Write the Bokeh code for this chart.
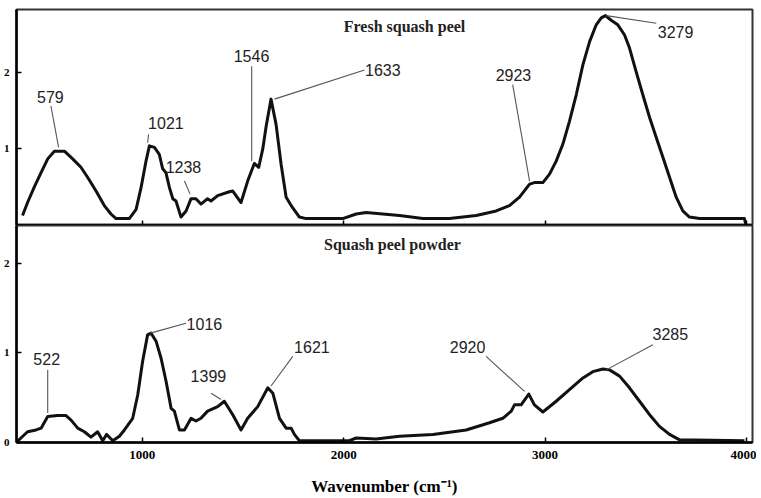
from bokeh.plotting import figure
from bokeh.models import Range1d, FixedTicker, CustomLabelingPolicy
from bokeh.layouts import column
from bokeh.core.properties import value
from bokeh.embed import file_html
from bokeh.resources import INLINE

# ---------------- data ----------------
fresh_wn = [405, 430, 463, 497, 530, 563, 613, 654, 695, 728, 770, 811, 844, 869, 935, 969, 994,
            1018, 1035, 1060, 1084, 1101, 1117, 1134, 1151, 1167, 1192, 1217, 1242, 1266, 1291,
            1324, 1341, 1374, 1432, 1449, 1490, 1523, 1556, 1578, 1598, 1615, 1639, 1664, 1689,
            1714, 1739, 1780, 1813, 1995, 2062, 2111, 2194, 2277, 2393, 2525, 2658, 2757, 2823,
            2873, 2923, 2947, 2989, 3022, 3055, 3088, 3121, 3155, 3188, 3221, 3254, 3279, 3300,
            3328, 3361, 3394, 3419, 3452, 3485, 3519, 3552, 3585, 3618, 3651, 3684, 3717, 3767,
            3990, 3998]
fresh_abs = [0.13, 0.30, 0.50, 0.69, 0.87, 0.97, 0.97, 0.87, 0.76, 0.63, 0.45, 0.26, 0.15, 0.09,
             0.09, 0.21, 0.50, 0.84, 1.04, 1.02, 0.93, 0.74, 0.69, 0.50, 0.35, 0.32, 0.11, 0.19,
             0.35, 0.35, 0.28, 0.35, 0.32, 0.39, 0.44, 0.45, 0.30, 0.58, 0.81, 0.76, 1.00, 1.30,
             1.65, 1.32, 0.80, 0.37, 0.26, 0.11, 0.09, 0.09, 0.15, 0.17, 0.15, 0.13, 0.09, 0.09,
             0.13, 0.19, 0.26, 0.37, 0.54, 0.56, 0.56, 0.67, 0.84, 1.06, 1.36, 1.71, 2.10, 2.40,
             2.62, 2.71, 2.74, 2.68, 2.62, 2.49, 2.32, 2.01, 1.71, 1.41, 1.15, 0.89, 0.63, 0.37,
             0.19, 0.11, 0.09, 0.09, 0.0]

powder_wn = [378, 397, 430, 472, 497, 530, 579, 621, 646, 679, 712, 745, 778, 803, 823, 853, 886,
             911, 952, 977, 1001, 1026, 1043, 1068, 1093, 1118, 1143, 1159, 1184, 1209, 1242,
             1266, 1291, 1324, 1374, 1407, 1449, 1490, 1523, 1573, 1623, 1648, 1681, 1714, 1739,
             1755, 1780, 2028, 2062, 2161, 2277, 2443, 2608, 2724, 2790, 2832, 2848, 2881, 2919,
             2947, 2989, 3055, 3121, 3188, 3237, 3287, 3320, 3370, 3419, 3469, 3519, 3568, 3618,
             3668, 3990]
powder_abs = [0.01, 0.05, 0.12, 0.14, 0.16, 0.29, 0.30, 0.30, 0.25, 0.16, 0.12, 0.06, 0.12, 0.02,
              0.09, 0.02, 0.07, 0.14, 0.27, 0.53, 0.90, 1.20, 1.22, 1.13, 0.94, 0.68, 0.38, 0.35,
              0.14, 0.14, 0.27, 0.24, 0.27, 0.35, 0.40, 0.46, 0.31, 0.14, 0.27, 0.40, 0.61, 0.55,
              0.27, 0.16, 0.16, 0.09, 0.02, 0.02, 0.05, 0.04, 0.07, 0.09, 0.14, 0.22, 0.27, 0.35,
              0.42, 0.42, 0.54, 0.42, 0.34, 0.46, 0.59, 0.72, 0.79, 0.82, 0.81, 0.74, 0.61, 0.46,
              0.31, 0.18, 0.09, 0.03, 0.02]

x_ticks = [1000, 2000, 3000, 4000]
fresh_y_ticks = [1, 2]
powder_y_ticks = [0, 1, 2]

fresh_peaks = ["579", "1021", "1238", "1546", "1633", "2923", "3279"]
powder_peaks = ["522", "1016", "1399", "1621", "2920", "3285"]

# ---------------- layout of annotations (positions only) ----------------
fresh_text_xy = [(543, 1.68), (1117, 1.34), (1204, 0.76), (1542, 2.21), (2194, 2.03), (2843, 1.97), (3648, 2.52)]
fresh_lead = [(546, 1.56, 584, 1.02), (1031, 1.19, 1026, 1.08), (1209, 0.58, 1237, 0.41),
              (1543, 2.08, 1543, 0.84), (2103, 2.03, 1656, 1.65), (2839, 1.84, 2923, 0.58),
              (3552, 2.64, 3304, 2.74)]
powder_text_xy = [(525, 0.93), (1308, 1.32), (1328, 0.74), (1842, 1.06), (2615, 1.06), (3622, 1.21)]
powder_lead = [(530, 0.81, 530, 0.33), (1217, 1.33, 1040, 1.22), (1341, 0.55, 1391, 0.48),
               (1747, 0.96, 1639, 0.63), (2707, 0.96, 2898, 0.57), (3535, 1.09, 3304, 0.81)]

SERIF = "Liberation Serif"
SANS = "Liberation Sans"


def make_panel(ymax, yticks, frame_h, bottom):
    p = figure(frame_width=736, frame_height=frame_h,
               x_range=Range1d(375, 4030), y_range=Range1d(0, ymax),
               output_backend="svg", toolbar_location=None,
               min_border_left=0, min_border_right=4,
               min_border_top=0 if bottom else 9, min_border_bottom=0)
    p.grid.visible = False
    p.outline_line_color = "#333333"
    p.outline_line_width = 2
    p.background_fill_color = "white"
    p.border_fill_color = "white"

    p.xaxis.ticker = FixedTicker(ticks=x_ticks)
    p.yaxis.ticker = FixedTicker(ticks=yticks)
    for ax in (p.xaxis[0], p.yaxis[0]):
        ax.axis_line_color = "black"
        ax.axis_line_width = 2.5
        ax.major_tick_line_color = "black"
        ax.major_tick_line_width = 1.5
        ax.major_tick_in = 5
        ax.major_tick_out = 0
        ax.minor_tick_line_color = None
        ax.major_label_text_font = SERIF
        ax.major_label_text_font_style = "bold"
        ax.major_label_text_color = "black"
    p.yaxis.major_label_text_font_size = "11px"
    p.yaxis.major_label_standoff = 7
    if bottom:
        p.xaxis.major_label_text_font_size = "13px"
        p.xaxis.major_label_standoff = 8
        p.xaxis.axis_label = "Wavenumber (cm\u207b\u00b9)"
        p.xaxis.axis_label_text_font = SERIF
        p.xaxis.axis_label_text_font_style = "bold"
        p.xaxis.axis_label_text_font_size = "17px"
        p.xaxis.axis_label_standoff = 15
        p.xaxis.axis_label_text_color = "black"
    else:
        # tick marks only on the shared border, no tick labels
        p.xaxis.major_label_text_font_size = "0px"
        p.xaxis.major_label_standoff = 0
        p.xaxis.major_label_policy = CustomLabelingPolicy(
            code="for (const i of indices) { indices.unset(i) }; return indices")
    return p


def annotate(p, labels, text_xy, leads):
    p.segment(x0=[l[0] for l in leads], y0=[l[1] for l in leads],
              x1=[l[2] for l in leads], y1=[l[3] for l in leads],
              line_color="#555555", line_width=1.1)
    p.text(x=[t[0] for t in text_xy], y=[t[1] for t in text_xy], text=labels,
           text_font=value(SANS), text_font_size="16px", text_color="#222222",
           text_align="center", text_baseline="middle")


top = make_panel(2.82, fresh_y_ticks, 216, False)
top.line(fresh_wn, fresh_abs, line_color="#111111", line_width=3, line_join="round")
annotate(top, fresh_peaks, fresh_text_xy, fresh_lead)
top.text(x=[2302], y=[2.60], text=["Fresh squash peel"], text_font=value(SERIF),
         text_font_style="bold", text_font_size="16px", text_color="#222222",
         text_align="center", text_baseline="middle")

bot = make_panel(2.42, powder_y_ticks, 217, True)
bot.line(powder_wn, powder_abs, line_color="#111111", line_width=3, line_join="round")
annotate(bot, powder_peaks, powder_text_xy, powder_lead)
bot.text(x=[2242], y=[2.21], text=["Squash peel powder"], text_font=value(SERIF),
         text_font_style="bold", text_font_size="16px", text_color="#222222",
         text_align="center", text_baseline="middle")

layout = column(top, bot, spacing=0)
open("out.html", "w").write(file_html(layout, INLINE))
